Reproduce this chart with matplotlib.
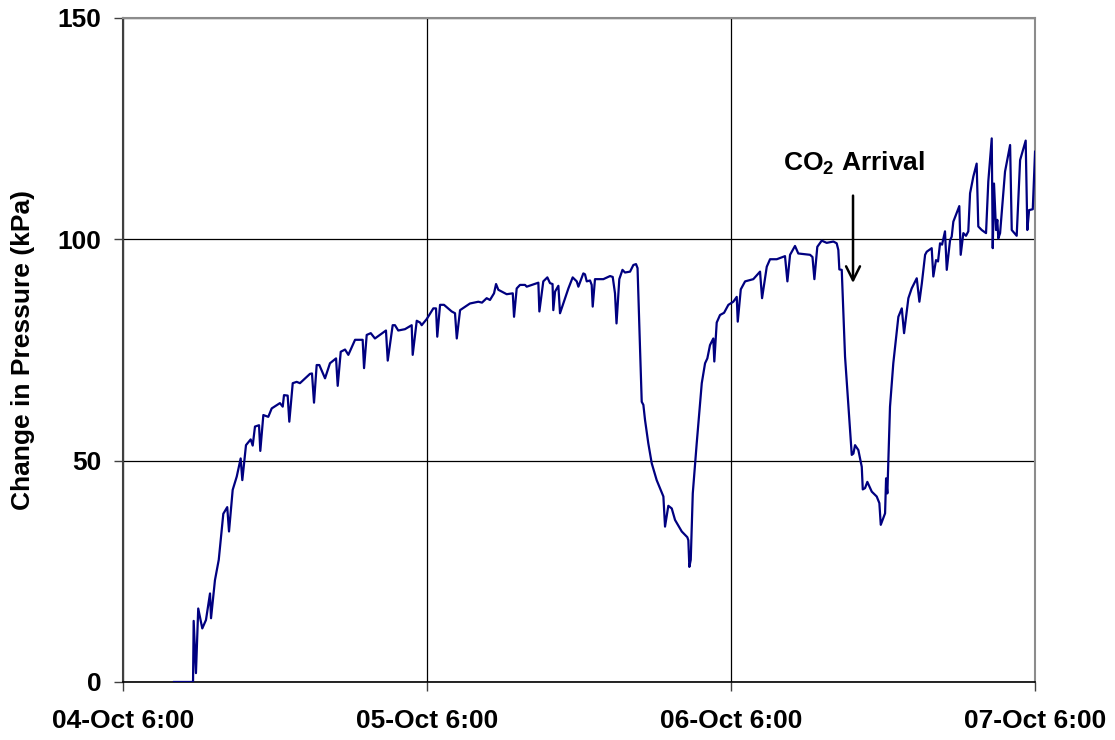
import numpy as np
import matplotlib.pyplot as plt

# time in hours after 04-Oct 6:00, change in pressure in kPa
hours = [4.03, 5.53, 5.58, 5.76, 5.94, 6.26, 6.55, 6.87, 6.95, 7.26, 7.56, 7.92, 8.23, 8.37,
         8.66, 8.98, 9.29, 9.42, 9.71, 10.08, 10.24, 10.42, 10.74, 10.84, 11.08, 11.47, 11.74,
         12.39, 12.61, 12.71, 13.00, 13.13, 13.40, 13.71, 13.97, 14.76, 14.92, 15.08, 15.29,
         15.50, 15.95, 16.34, 16.82, 16.95, 17.19, 17.53, 17.79, 18.32, 18.92, 19.03, 19.24,
         19.56, 19.89, 20.76, 20.90, 21.29, 21.47, 21.73, 22.26, 22.79, 22.87, 23.19, 23.45,
         23.58, 23.98, 24.50, 24.71, 24.81, 25.03, 25.34, 25.95, 26.21, 26.35, 26.61, 27.39,
         28.05, 28.34, 28.71, 28.97, 29.29, 29.45, 29.63, 30.29, 30.77, 30.87, 31.08, 31.34,
         31.74, 31.87, 32.79, 32.87, 33.18, 33.50, 33.71, 33.91, 33.97, 34.11, 34.37, 34.50,
         34.76, 35.16, 35.50, 35.82, 35.95, 36.34, 36.47, 36.61, 36.87, 37.00, 37.08, 37.26,
         37.92, 38.45, 38.66, 38.84, 38.96, 39.18, 39.43, 39.63, 40.03, 40.29, 40.50, 40.62,
         40.68, 40.82, 40.95, 41.08, 41.21, 41.47, 41.74, 42.13, 42.66, 42.79, 43.05, 43.32,
         43.58, 44.11, 44.55, 44.63, 44.71, 44.82, 44.98, 45.29, 45.69, 45.95, 46.13, 46.34,
         46.60, 46.68, 46.87, 47.13, 47.45, 47.79, 48.18, 48.45, 48.53, 48.77, 49.11, 49.76,
         50.29, 50.45, 50.82, 51.08, 51.61, 52.26, 52.45, 52.66, 53.05, 53.31, 54.24, 54.43,
         54.58, 54.81, 55.16, 55.55, 56.08, 56.34, 56.47, 56.55, 56.74, 57.00, 57.34, 57.53,
         57.66, 57.79, 58.05, 58.32, 58.40, 58.58, 58.76, 59.11, 59.50, 59.71, 59.82, 60.16,
         60.24, 60.34, 60.55, 60.81, 61.21, 61.48, 61.66, 62.00, 62.26, 62.66, 62.87, 63.06,
         63.32, 63.45, 63.84, 63.97, 64.18, 64.34, 64.50, 64.66, 64.89, 65.03, 65.29, 65.42,
         65.55, 66.02, 66.13, 66.34, 66.55, 66.73, 66.87, 67.13, 67.39, 67.52, 67.79, 68.13,
         68.31, 68.58, 68.66, 68.76, 68.92, 69.02, 69.10, 69.24, 69.63, 70.03, 70.16, 70.55,
         70.82, 71.26, 71.39, 71.53, 71.82, 72.00]
pressure = [0.0, 0.0, 13.8, 2.0, 16.6, 12.1, 14.0, 20.0, 14.4, 23.0, 27.6, 38.0, 39.5, 34.0,
            43.4, 46.4, 50.5, 45.6, 53.5, 54.8, 53.4, 57.7, 58.0, 52.2, 60.3, 59.9, 61.8,
            63.0, 62.2, 64.8, 64.7, 58.8, 67.5, 67.8, 67.5, 69.6, 69.7, 63.1, 71.6,
            71.6, 68.6, 72.0, 73.1, 66.9, 74.6, 75.1, 73.9, 77.3, 77.3, 70.9, 78.4,
            78.8, 77.6, 79.4, 72.6, 80.6, 80.6, 79.4, 79.7, 80.6, 73.9, 81.6, 81.2,
            80.6, 82.0, 84.4, 84.4, 78.0, 85.2, 85.2, 83.7, 83.3, 77.6, 84.0, 85.5,
            85.9, 85.7, 86.7, 86.3, 87.8, 89.9, 88.6, 87.6, 87.8, 82.5, 88.9, 89.7,
            89.7, 89.3, 90.2, 83.7, 90.5, 91.4, 90.1, 89.9, 84.0, 88.2, 89.5, 83.3,
            85.5, 88.9, 91.4, 90.5, 89.3, 92.3, 92.1, 90.5, 90.7, 89.7, 84.8, 91.0,
            91.0, 91.7, 91.5, 87.8, 81.0, 91.0, 93.1, 92.5, 92.7, 94.2, 94.4, 93.5,
            87.8, 75.0, 63.3, 62.6, 59.2, 53.9, 49.4, 45.6, 41.9, 35.1, 39.8, 39.2,
            36.6, 34.0, 32.7, 32.0, 26.0, 27.6, 42.6, 53.9, 67.5, 72.0, 73.1, 76.1,
            77.6, 72.4, 81.2, 82.9, 83.4, 85.2, 85.9, 87.0, 81.4, 88.7, 90.5, 91.0,
            92.7, 86.7, 93.8, 95.5, 95.5, 96.2, 90.5, 96.5, 98.5, 96.8, 96.5, 96.0,
            91.0, 98.3, 99.7, 99.2, 99.5, 99.1, 97.6, 93.2, 93.1, 73.5, 59.2, 51.3,
            51.6, 53.5, 52.4, 48.6, 43.5, 43.8, 45.2, 43.0, 41.9, 40.4, 35.5, 38.1,
            46.0, 42.6, 62.2, 72.0, 82.5, 84.4, 78.8, 86.7, 88.9, 91.2, 85.9, 90.0,
            96.5, 97.2, 98.0, 91.6, 95.3, 95.0, 99.1, 98.8, 101.8, 93.1, 99.8, 100.6,
            104.0, 107.5, 96.5, 101.4, 100.8, 101.8, 110.4, 114.2, 117.1, 102.9, 102.1, 101.4,
            113.1, 122.8, 98.0, 112.6, 102.1, 104.4, 100.2, 101.4, 115.3, 121.3, 102.1, 100.8,
            117.9, 122.3, 102.1, 106.6, 106.8, 119.8]

xticks = [0, 24, 48, 72]
xlabels = ['04-Oct 6:00', '05-Oct 6:00', '06-Oct 6:00', '07-Oct 6:00']
yticks = [0, 50, 100, 150]

plt.rcParams['font.family'] = 'Liberation Sans'
plt.rcParams['font.weight'] = 'bold'
plt.rcParams['mathtext.fontset'] = 'custom'
plt.rcParams['mathtext.rm'] = 'Liberation Sans:bold'
plt.rcParams['mathtext.bf'] = 'Liberation Sans:bold'

fig = plt.figure(figsize=(11.15, 7.4), dpi=100)
ax = fig.add_axes([0.1103, 0.0784, 0.818, 0.8973])

ax.plot(hours, pressure, color='#000080', lw=1.6, zorder=3)

ax.set_xlim(0, 72)
ax.set_ylim(0, 150)
ax.set_xticks(xticks)
ax.set_xticklabels(xlabels)
ax.set_yticks(yticks)
ax.grid(True, color='black', lw=0.9)
ax.tick_params(axis='both', labelsize=19, length=6.5, width=1, color='#404040')
ax.tick_params(axis='x', pad=13)
ax.tick_params(axis='y', pad=9)

for s in ['top', 'right']:
    ax.spines[s].set_color('#8c8c8c')
    ax.spines[s].set_linewidth(1.5)
ax.spines['left'].set_color('#404040')
ax.spines['left'].set_linewidth(1.5)
ax.spines['bottom'].set_color('black')
ax.spines['bottom'].set_linewidth(1.2)

ax.set_ylabel('Change in Pressure (kPa)', fontsize=19, fontweight='bold')
ax.yaxis.set_label_coords(-0.097, 0.5)

ax.annotate('', xy=(57.63, 89.5), xytext=(57.63, 110.5),
            arrowprops=dict(arrowstyle='->', color='black', lw=1.8, mutation_scale=25))
ax.text(57.7, 117.2, 'CO$_2$ Arrival', fontsize=19, fontweight='bold',
        ha='center', va='center')

fig.savefig('out.png', dpi=100)
